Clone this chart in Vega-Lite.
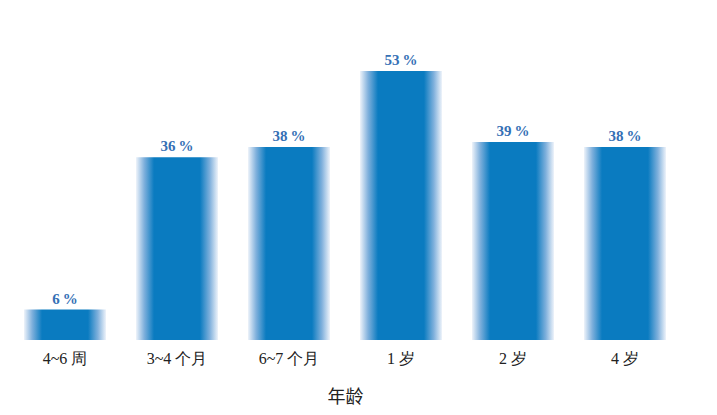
{
  "$schema": "https://vega.github.io/schema/vega-lite/v6.json",
  "autosize": "none",
  "padding": {"left": 9, "top": 10, "right": 36, "bottom": 75},
  "width": 672,
  "height": 330,
  "background": "white",
  "config": {"view": {"stroke": null}},
  "data": {
    "values": [
      {"age": "4~6 周", "pct": 6, "label": "6\u2009%"},
      {"age": "3~4 个月", "pct": 36, "label": "36\u2009%"},
      {"age": "6~7 个月", "pct": 38, "label": "38\u2009%"},
      {"age": "1 岁", "pct": 53, "label": "53\u2009%"},
      {"age": "2 岁", "pct": 39, "label": "39\u2009%"},
      {"age": "4 岁", "pct": 38, "label": "38\u2009%"}
    ]
  },
  "encoding": {
    "x": {
      "field": "age",
      "type": "nominal",
      "sort": null,
      "scale": {"paddingInner": 0.268, "paddingOuter": 0.134},
      "axis": {
        "title": "年龄",
        "labelAngle": 0,
        "domain": false,
        "ticks": false,
        "labelPadding": 10,
        "labelFont": "Liberation Serif, serif",
        "labelFontSize": 16,
        "labelColor": "#222222",
        "titleFont": "Noto Sans CJK SC",
        "titleFontSize": 18,
        "titleFontWeight": "normal",
        "titleColor": "#222222",
        "titlePadding": 22
      }
    },
    "y": {
      "field": "pct",
      "type": "quantitative",
      "scale": {"domain": [0, 65]},
      "axis": null
    }
  },
  "layer": [
    {
      "mark": {
        "type": "bar",
        "fill": {
          "gradient": "linear",
          "x1": 0, "x2": 1, "y1": 0, "y2": 0,
          "stops": [
            {"offset": 0, "color": "#eef3fa"},
            {"offset": 0.1, "color": "#7fb0dc"},
            {"offset": 0.22, "color": "#0a7bc0"},
            {"offset": 0.78, "color": "#0a7bc0"},
            {"offset": 0.9, "color": "#7fb0dc"},
            {"offset": 1, "color": "#eef3fa"}
          ]
        }
      }
    },
    {
      "mark": {
        "type": "text",
        "baseline": "bottom",
        "dy": -3,
        "font": "Liberation Serif, serif",
        "fontWeight": "bold",
        "fontSize": 15,
        "color": "#3570b5"
      },
      "encoding": {
        "text": {"field": "label", "type": "nominal"}
      }
    }
  ]
}
